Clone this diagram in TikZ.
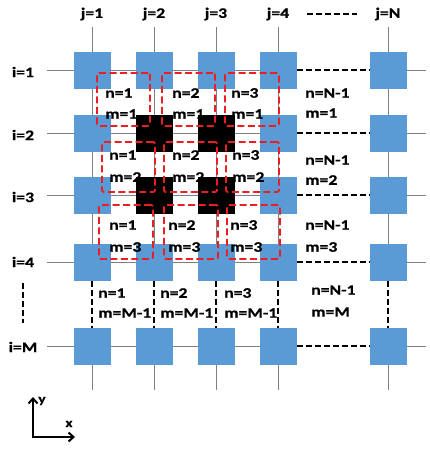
\documentclass[tikz,border=0pt]{standalone}
\usepackage{fontspec}
\newfontfamily\lab{Carlito}[UprightFont={* Bold}, FakeStretch=1.22, FakeBold=0.6]
\usetikzlibrary{arrows.meta}
\definecolor{boxblue}{RGB}{91,155,213}
\definecolor{gridgray}{RGB}{128,128,128}
\definecolor{dred}{RGB}{235,30,35}
\begin{document}
\begin{tikzpicture}[x=1pt,y=-1pt,
  cell/.style={draw=none, fill=boxblue, minimum size=37pt, inner sep=0pt, outer sep=0pt},
  hot/.style={cell, fill=black},
  wire/.style={draw=gridgray, line width=0.9pt},
  gap/.style={draw=black, line width=2pt, dash pattern=on 6pt off 3pt},
  win/.style={draw=dred, line width=1.9pt, dash pattern=on 7pt off 3.5pt, rounded corners=2pt, fill=none, inner sep=0pt},
  lbl/.style={font=\lab\fontsize{14.5}{16}\selectfont, inner sep=0pt, anchor=west},
  head/.style={font=\lab\fontsize{14.5}{16}\selectfont, inner sep=0pt},
  axlbl/.style={font=\lab\fontsize{12.5}{14}\selectfont, inner sep=0pt},
]
\useasboundingbox (0,0) rectangle (429,450);

% cells
\foreach \r/\y in {1/70,4/262,M/346} {
  \foreach \c/\x in {1/92,2/154,3/216,4/278,N/388} {
    \node[cell] (b\r\c) at (\x,\y) {};
  }
}
\foreach \r/\y in {2/133,3/195} {
  \foreach \c/\x in {1/92,4/278,N/388} {
    \node[cell] (b\r\c) at (\x,\y) {};
  }
  \foreach \c/\x in {2/154,3/216} {
    \node[hot] (b\r\c) at (\x,\y) {};
  }
}

% end coordinates
\foreach \r/\y in {1/70,2/133,3/195,4/262,M/346} {
  \coordinate (L\r) at (47,\y);
  \coordinate (R\r) at (426,\y);
}
\foreach \c/\x in {1/92,2/154,3/216,4/278,N/388} {
  \coordinate (T\c) at (\x,27);
  \coordinate (B\c) at (\x,390);
}

% horizontal wires
\foreach \r in {1,2,3,4,M} {
  \draw[wire] (L\r) -- (b\r1);
  \draw[wire] (b\r1) -- (b\r2);
  \draw[wire] (b\r2) -- (b\r3);
  \draw[wire] (b\r3) -- (b\r4);
  \draw[gap] (b\r4) -- (b\r N);
  \draw[wire] (b\r N) -- (R\r);
}
% vertical wires
\foreach \c in {1,2,3,4,N} {
  \draw[wire] (T\c) -- (b1\c);
  \draw[wire] (b1\c) -- (b2\c);
  \draw[wire] (b2\c) -- (b3\c);
  \draw[wire] (b3\c) -- (b4\c);
  \draw[gap] (b4\c) -- (bM\c);
  \draw[wire] (bM\c) -- (B\c);
}

% red windows
\node[win, minimum width=53pt, minimum height=53pt] (w11) at (123.5,99.5) {};
\node[win, minimum width=53pt, minimum height=53pt] (w21) at (188.5,99.5) {};
\node[win, minimum width=54pt, minimum height=53pt] (w31) at (252,99.5) {};
\node[win, minimum width=53pt, minimum height=50pt] (w12) at (128.5,167) {};
\node[win, minimum width=53pt, minimum height=50pt] (w22) at (190.5,167) {};
\node[win, minimum width=53pt, minimum height=50pt] (w32) at (252.5,167) {};
\node[win, minimum width=54pt, minimum height=54pt] (w13) at (126,232) {};
\node[win, minimum width=54pt, minimum height=54pt] (w23) at (191,232) {};
\node[win, minimum width=53pt, minimum height=54pt] (w33) at (253.5,232) {};

% cell labels
\node[lbl] (n11) at (105,93) {n=1};   \node[lbl] (m11) at (105,114) {m=1};
\node[lbl] (n21) at (172,93) {n=2};   \node[lbl] (m21) at (172,114) {m=1};
\node[lbl] (n31) at (231,93) {n=3};   \node[lbl] (m31) at (231,114) {m=1};
\node[lbl] (nN1) at (305,93) {n=N-1}; \node[lbl] (mN1) at (305,113) {m=1};

\node[lbl] (n12) at (109,155) {n=1};   \node[lbl] (m12) at (109,177) {m=2};
\node[lbl] (n22) at (172,155) {n=2};   \node[lbl] (m22) at (172,177) {m=2};
\node[lbl] (n32) at (232,155) {n=3};   \node[lbl] (m32) at (232,177) {m=2};
\node[lbl] (nN2) at (305,160) {n=N-1}; \node[lbl] (mN2) at (305,180) {m=2};

\node[lbl] (n13) at (109,225) {n=1};   \node[lbl] (m13) at (109,247) {m=3};
\node[lbl] (n23) at (168,225) {n=2};   \node[lbl] (m23) at (168,247) {m=3};
\node[lbl] (n33) at (230,225) {n=3};   \node[lbl] (m33) at (230,247) {m=3};
\node[lbl] (nN3) at (305,225) {n=N-1}; \node[lbl] (mN3) at (305,247) {m=3};

\node[lbl] (n1M) at (98,293) {n=1};    \node[lbl] (m1M) at (98,313) {m=M-1};
\node[lbl] (n2M) at (160,293) {n=2};   \node[lbl] (m2M) at (160,313) {m=M-1};
\node[lbl] (n3M) at (224,293) {n=3};   \node[lbl] (m3M) at (224,313) {m=M-1};
\node[lbl] (nNM) at (311,290) {n=N-1}; \node[lbl] (mNM) at (311,312) {m=M};

% headers
\node[head] (j1) at (92,14) {j=1};
\node[head] (j2) at (154,14) {j=2};
\node[head] (j3) at (216,14) {j=3};
\node[head] (j4) at (278,14) {j=4};
\node[head] (jN) at (388,14) {j=N};
\coordinate (hd1) at (307,14);
\coordinate (hd2) at (357,14);
\draw[gap] (hd1) -- (hd2);

\node[head] (i1) at (23,72) {i=1};
\node[head] (i2) at (23,135) {i=2};
\node[head] (i3) at (23,197) {i=3};
\node[head] (i4) at (23,262) {i=4};
\node[head] (iM) at (23,347) {i=M};
\coordinate (vd1) at (23,283);
\coordinate (vd2) at (23,323);
\draw[gap] (vd1) -- (vd2);

% axes
\coordinate (O) at (33,437);
\coordinate (ay) at (33,397);
\coordinate (ax) at (75,437);
\draw[line width=2pt, {Straight Barb[length=5pt,width=9pt]}-{Straight Barb[length=5pt,width=9pt]}] (ay) -- (O) -- (ax);
\node[axlbl] (ylab) at (42,401) {y};
\node[axlbl] (xlab) at (69,424) {x};
\end{tikzpicture}
\end{document}
